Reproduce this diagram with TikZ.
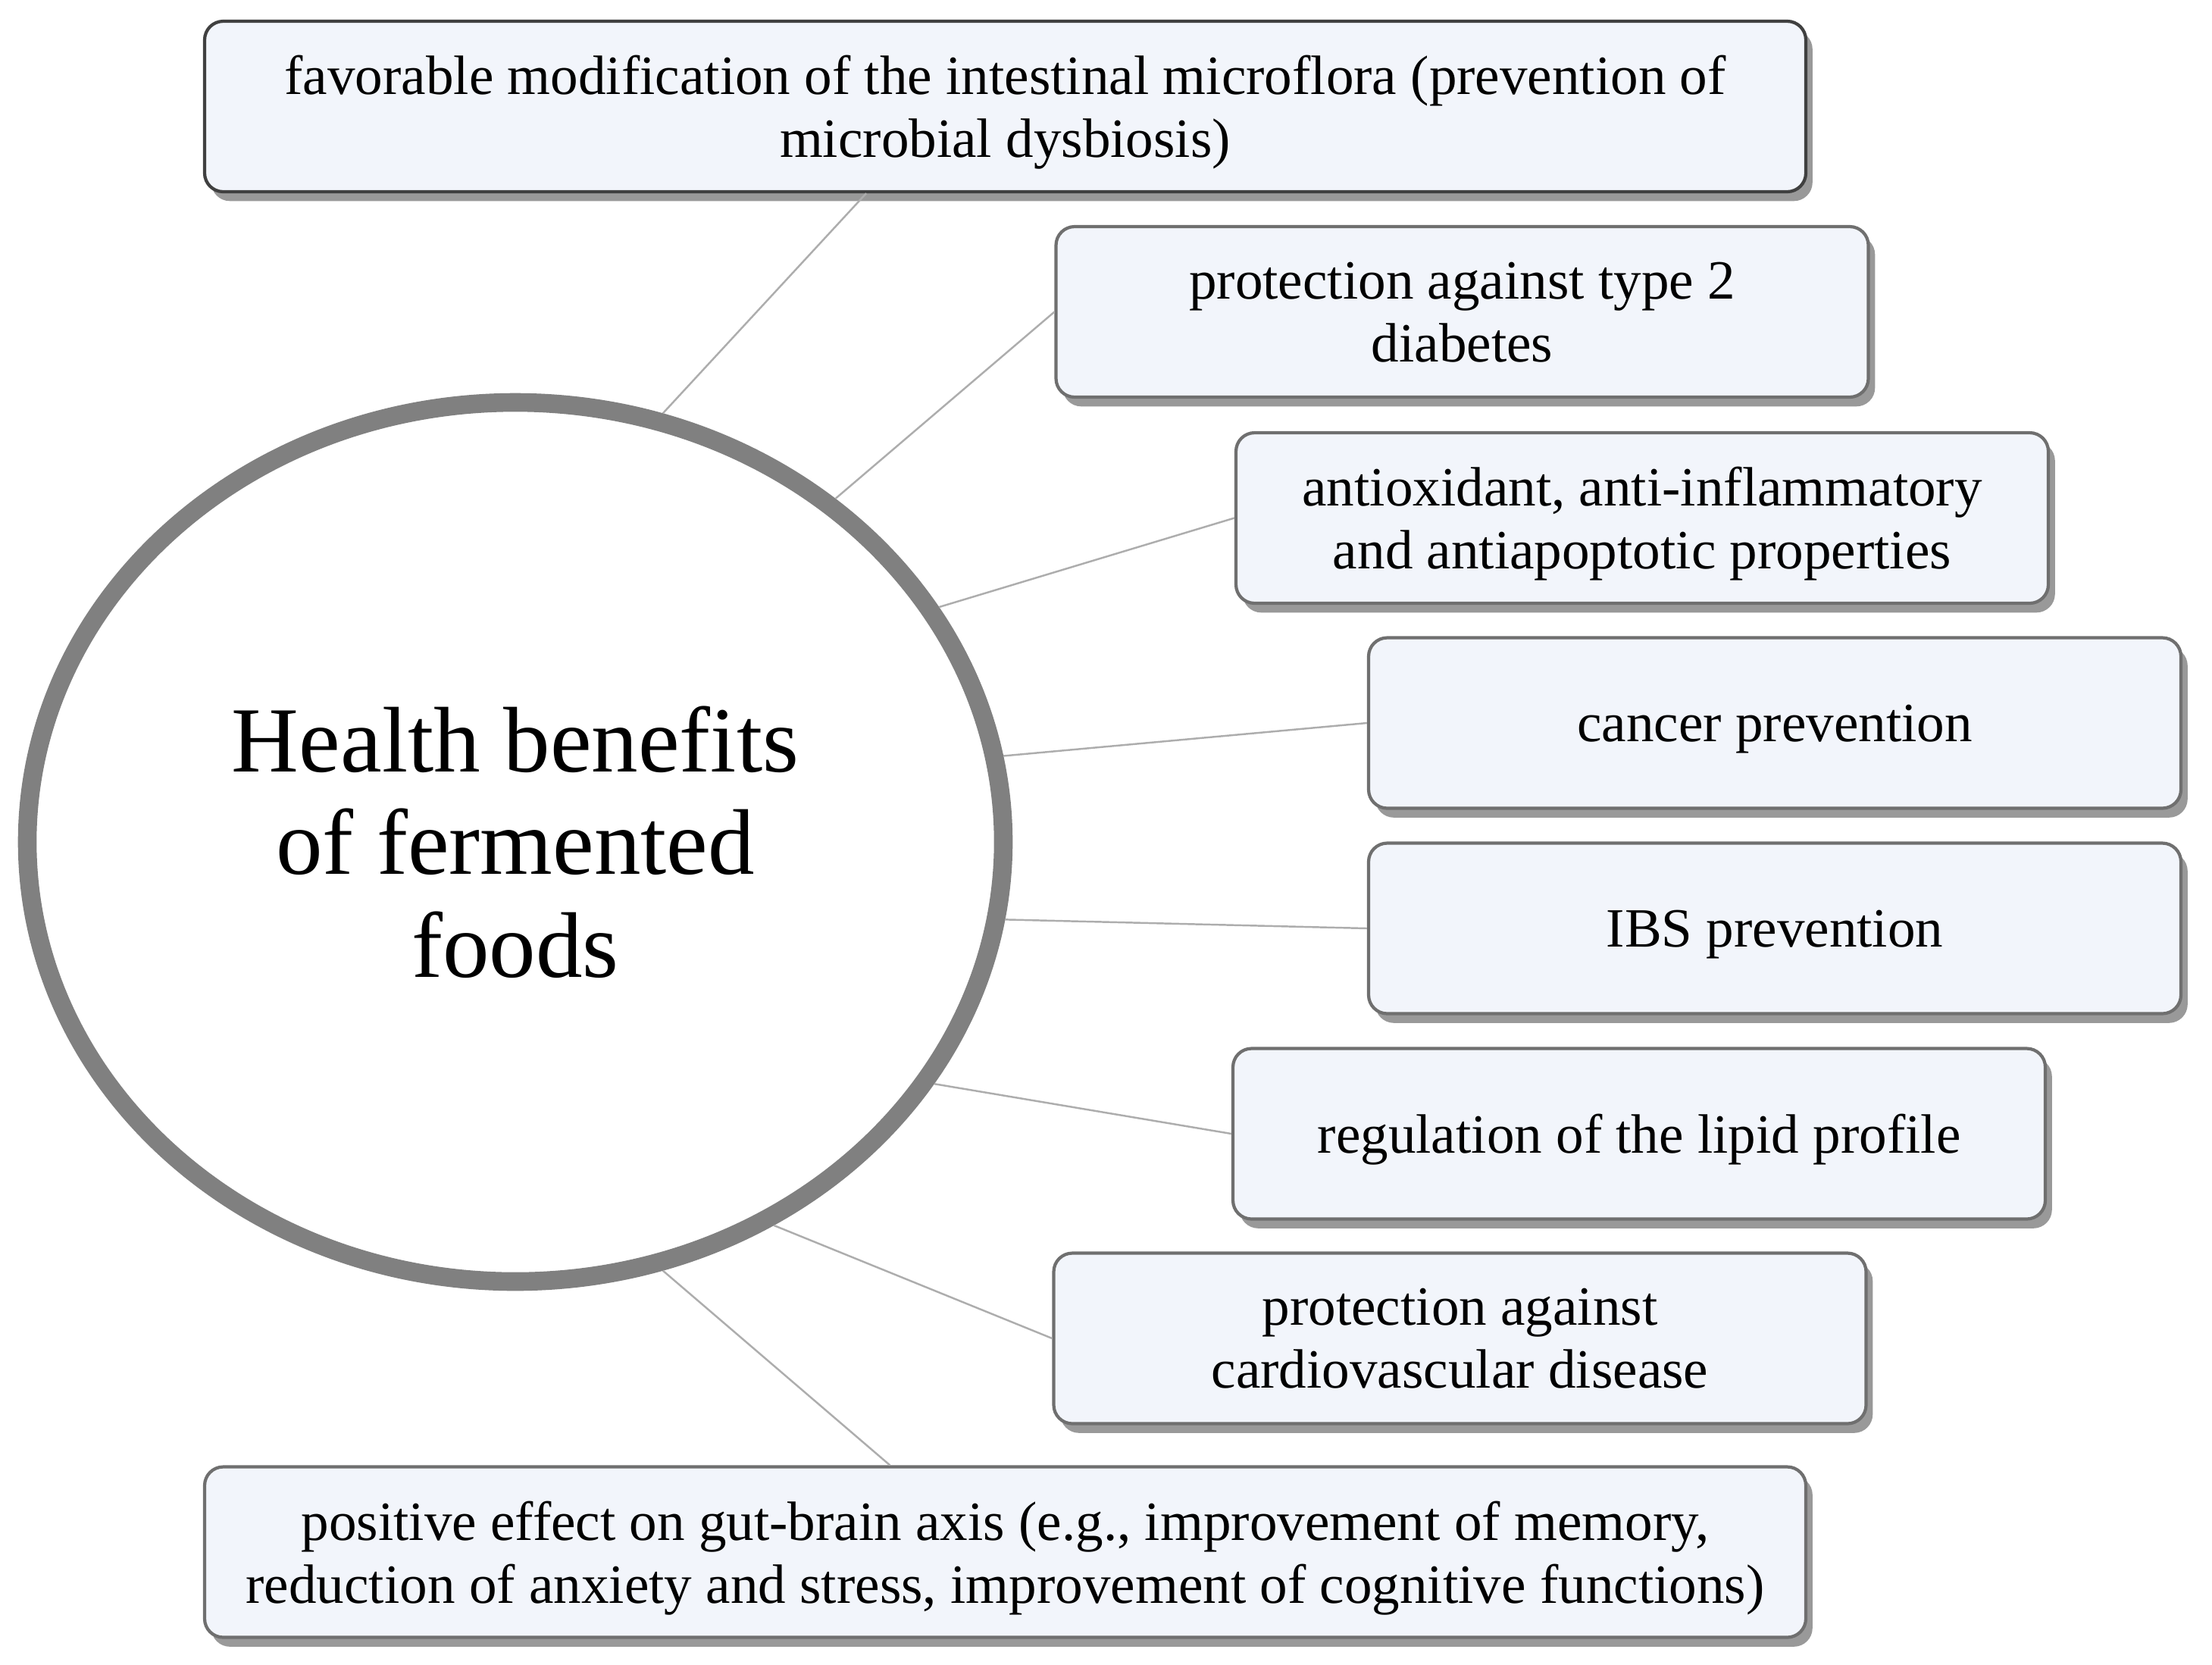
\documentclass[tikz,border=0pt]{standalone}
\usepackage{fontspec}
\setmainfont{Liberation Serif}
\usepackage{tikz}
\usetikzlibrary{shapes.geometric, shadows}

\definecolor{boxfill}{HTML}{F2F5FB}
\definecolor{boxline}{HTML}{6F6F6F}
\definecolor{ringline}{HTML}{808080}
\definecolor{linkline}{HTML}{ADADAD}

\tikzset{
	benefit/.style={draw=boxline, line width=1.2pt, fill=boxfill, rounded corners=7pt,
		align=center, inner sep=0pt, minimum height=\Hb cm, text depth=0pt,
		font=\fontsize{20.8}{23.5}\selectfont,
		drop shadow={shadow xshift=2.5pt, shadow yshift=-3.5pt, fill=black, opacity=0.4}},
	link/.style={draw=linkline, line width=0.7pt},
}

\begin{document}
\begin{tikzpicture}
	% параметры
	\def\Wl{21.13} % ширина длинного блока
	\def\Ws{10.72} % ширина короткого блока
	\def\Hb{2.25}  % высота блока

	\useasboundingbox (0,0) rectangle (29.19,-21.96);

	% центральный эллипс
	\node[ellipse, draw=ringline, line width=7pt, fill=white, minimum width=12.88cm,
		minimum height=11.6cm, inner sep=0pt, align=center,
		font=\fontsize{35}{38.5}\selectfont] (benefits) at (6.80,-11.11)
		{Health benefits\\ of fermented\\ foods};

	% блоки
	\node[benefit, draw=black!75, minimum width=\Wl cm] (modification) at (13.265,-1.405)
		{favorable modification of the intestinal microflora (prevention of\\ microbial dysbiosis)};
	\node[benefit, minimum width=\Ws cm] (diabetes) at (19.295,-4.115)
		{protection against type 2\\ diabetes};
	\node[benefit, minimum width=\Ws cm] (antioxidant) at (21.67,-6.835)
		{antioxidant, anti-inflammatory\\ and antiapoptotic properties};
	\node[benefit, minimum width=\Ws cm] (cancer) at (23.42,-9.54)
		{cancer prevention};
	\node[benefit, minimum width=\Ws cm] (ibs) at (23.42,-12.25)
		{IBS prevention};
	\node[benefit, minimum width=\Ws cm] (lipid) at (21.63,-14.96)
		{regulation of the lipid profile};
	\node[benefit, minimum width=\Ws cm] (cardio) at (19.265,-17.66)
		{protection against\\ cardiovascular disease};
	\node[benefit, minimum width=\Wl cm] (gutbrain) at (13.265,-20.48)
		{positive effect on gut-brain axis (e.g., improvement of memory,\\ reduction of anxiety and stress, improvement of cognitive functions)};

	% связи
	\draw[link] (benefits.71) -- (modification.212);
	\draw[link] (benefits.47) -- (diabetes.west);
	\draw[link] (benefits.29) -- (antioxidant.west);
	\draw[link] (benefits.10) -- (cancer.west);
	\draw[link] (benefits.-9) -- (ibs.west);
	\draw[link] (benefits.-30) -- (lipid.west);
	\draw[link] (benefits.-56) -- (cardio.west);
	\draw[link] (benefits.-71) -- (gutbrain.143);
\end{tikzpicture}
\end{document}
